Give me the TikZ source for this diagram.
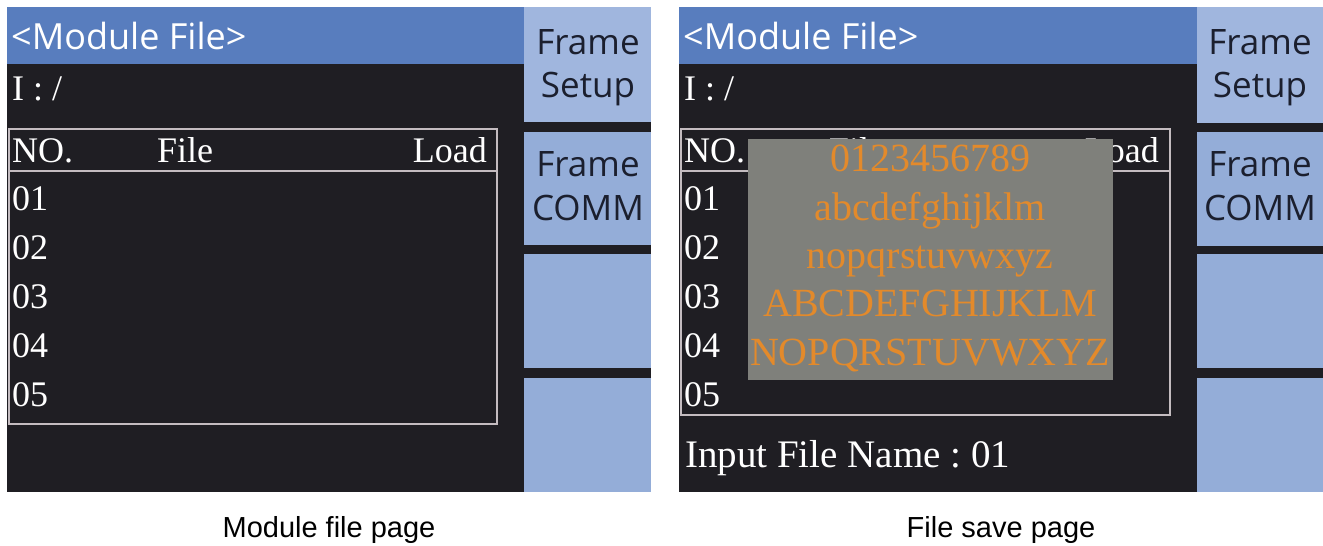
\documentclass[tikz,border=0pt]{standalone}
\usepackage{fontspec}
\setmainfont{Liberation Serif}
\newfontfamily\uisans{Open Sans}
\newfontfamily\capsans{Liberation Sans}

\definecolor{scrbg}{RGB}{31,30,35}
\definecolor{hdrblue}{RGB}{88,125,190}
\definecolor{keytop}{RGB}{160,182,222}
\definecolor{keyblue}{RGB}{148,173,216}
\definecolor{keyink}{RGB}{27,31,46}
\definecolor{framegray}{RGB}{196,188,192}
\definecolor{popgray}{RGB}{127,128,123}
\definecolor{charorange}{RGB}{227,138,43}

\begin{document}
\begin{tikzpicture}[x=1pt,y=-1pt,
  screen/.style={fill=scrbg},
  titlebar/.style={fill=hdrblue},
  keyfirst/.style={fill=keytop},
  softkey/.style={fill=keyblue},
  listframe/.style={draw=framegray,line width=2pt},
  popup/.style={fill=popgray},
  titletext/.style={text=white,font=\uisans\fontsize{36}{40}\selectfont,anchor=base west,inner sep=0},
  keytext/.style={text=keyink,font=\uisans\fontsize{35}{40}\selectfont,anchor=base,inner sep=0},
  listtext/.style={text=white,font=\fontsize{36}{40}\selectfont,anchor=base west,inner sep=0},
  chartext/.style={text=charorange,font=\fontsize{40}{44}\selectfont,anchor=base,inner sep=0},
  captiontext/.style={text=black,font=\capsans\fontsize{29}{32}\selectfont,anchor=base,inner sep=0}]

\useasboundingbox (0,0) rectangle (1323,546);
\fill[white] (0,0) rectangle (1323,546);

% ---------- left screen: module file page ----------
\fill[screen] (7,7) rectangle (651,492);
\fill[titlebar] (7,7) rectangle (524,64);
\fill[keyfirst] (524,7) rectangle (651,122);
\fill[softkey] (524,132) rectangle (651,245);
\fill[softkey] (524,254) rectangle (651,368);
\fill[softkey] (524,378) rectangle (651,492);

\node[titletext] (ltitle) at (11,49) {<Module File>};
\node[listtext] (lpath) at (12,100) {I : /};

\node[keytext] (lk1a) at (588,54) {Frame};
\node[keytext] (lk1b) at (588,97) {Setup};
\node[keytext] (lk2a) at (588,176) {Frame};
\node[keytext] (lk2b) at (588,220) {COMM};

\draw[listframe] (9,129) rectangle (497,171);
\draw[listframe] (9,171) rectangle (497,424);
\node[listtext] (lno) at (12,162) {NO.};
\node[listtext,anchor=base] (lfile) at (185,162) {File};
\node[listtext,anchor=base east] (lload) at (487,162) {Load};
\foreach \r/\yb in {01/210,02/259,03/308,04/357,05/406}
  \node[listtext] (lrow\r) at (12,\yb) {\r};

\node[captiontext] (lcap) at (329,537) {Module file page};

% ---------- right screen: file save page ----------
\fill[screen] (679,7) rectangle (1323,492);
\fill[titlebar] (679,7) rectangle (1197,64);
\fill[keyfirst] (1197,7) rectangle (1323,123);
\fill[softkey] (1197,132) rectangle (1323,246);
\fill[softkey] (1197,254) rectangle (1323,368);
\fill[softkey] (1197,378) rectangle (1323,492);

\node[titletext] (rtitle) at (683,49) {<Module File>};
\node[listtext] (rpath) at (684,100) {I : /};

\node[keytext] (rk1a) at (1260,54) {Frame};
\node[keytext] (rk1b) at (1260,97) {Setup};
\node[keytext] (rk2a) at (1260,176) {Frame};
\node[keytext] (rk2b) at (1260,220) {COMM};

\draw[listframe] (681,129) rectangle (1170,171);
\draw[listframe] (681,171) rectangle (1170,415);
\node[listtext] (rno) at (684,162) {NO.};
\node[listtext,anchor=base] (rfile) at (857,162) {File};
\node[listtext,anchor=base east] (rload) at (1159,162) {Load};
\foreach \r/\yb in {01/210,02/259,03/308,04/357,05/406}
  \node[listtext] (rrow\r) at (684,\yb) {\r};

\node[listtext,font=\fontsize{39}{43}\selectfont] (rinput) at (685,467) {Input File Name :~01};

% character picker popup, drawn over the list
\fill[popup] (748,139) rectangle (1113,380);
\node[chartext] (cdig) at (930,171) {0123456789};
\node[chartext] (clo1) at (930,220) {abcdefghijklm};
\node[chartext] (clo2) at (930,268) {nopqrstuvwxyz};
\node[chartext] (cup1) at (930,316) {ABCDEFGHIJKLM};
\node[chartext] (cup2) at (930,365) {NOPQRSTUVWXYZ};

\node[captiontext] (rcap) at (1001,537) {File save page};
\end{tikzpicture}
\end{document}
